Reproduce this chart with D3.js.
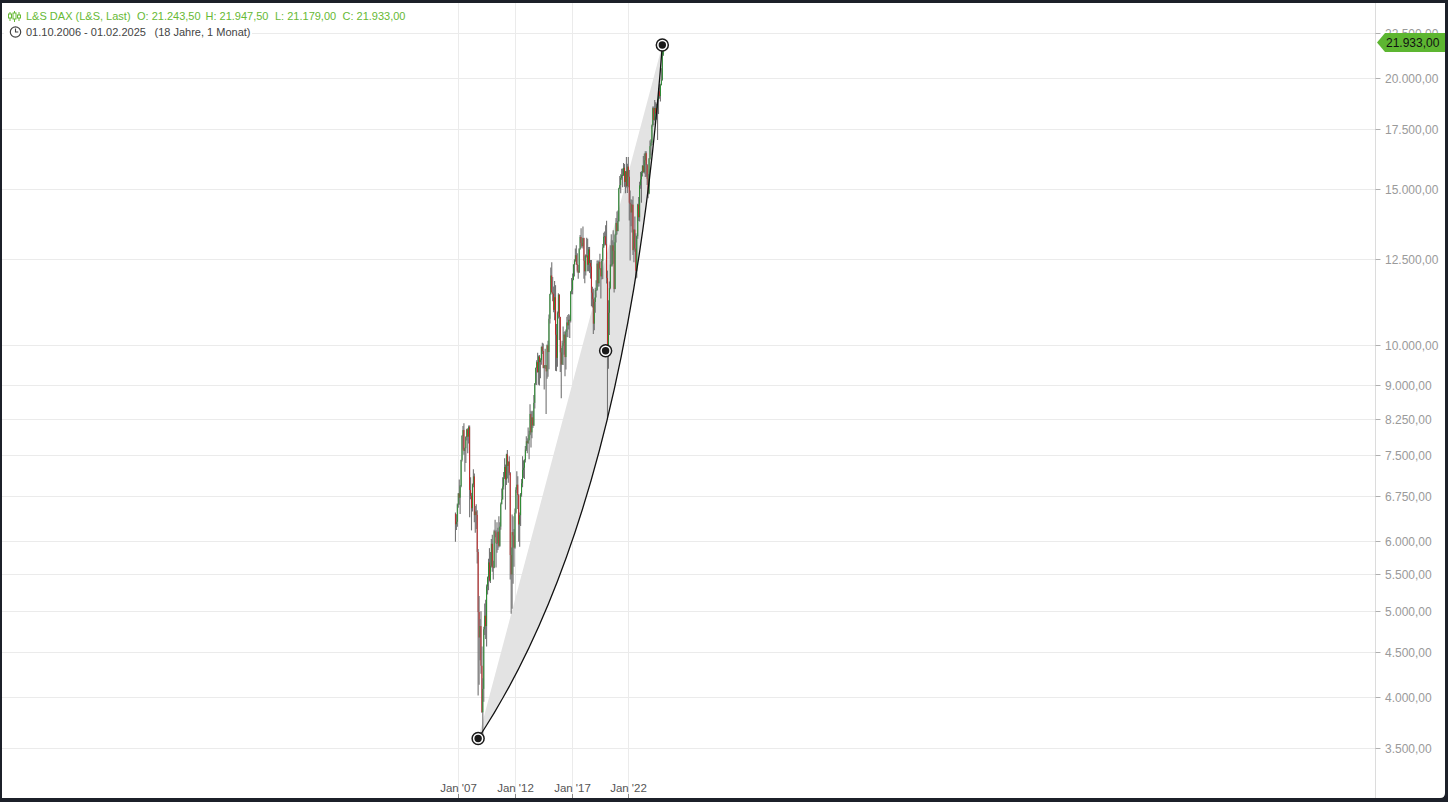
<!DOCTYPE html>
<html><head><meta charset="utf-8">
<script src="https://cdn.jsdelivr.net/npm/d3@7/dist/d3.min.js"></script>
<style>
html,body{margin:0;padding:0;background:#1c2029;}
svg{display:block;font-family:"Liberation Sans",Arial,sans-serif;}
</style></head>
<body>
<svg id="chart" width="1448" height="802"></svg>
<script>
// ---------- DATA ----------
const startMonth = [2006, 9]; // Oct 2006 (month index 9)
const opens = [
 6440,6268,6309,
 6597,6789,6716,6917,7409,7884,8007,7584,7638,7862,8019,7871,
 8067,6851,6748,6535,6949,7097,6418,6479,6422,5831,4988,4669,
 4810,4338,3844,4085,4769,4941,4809,5332,5458,5675,5415,5626,
 5957,5608,5598,6154,6136,5964,5966,6148,5925,6229,6601,6688,
 6914,7077,7273,7041,7514,7294,7376,7159,5785,5502,6141,6089,
 5898,6458,6856,6947,6761,6264,6416,6772,6971,7216,7260,7405,
 7612,7776,7742,7795,7914,8349,7959,8276,8103,8594,9033,9406,
 9552,9306,9692,9556,9603,9943,9833,9407,9470,9474,9327,9981,
 9806,10694,11402,11966,11454,11413,10945,11309,10259,9660,10850,11382,
 10743,9798,9495,9966,10039,10263,9680,10337,10593,10511,10665,10640,
 11481,11535,11834,12313,12438,12615,12325,12118,12056,12829,13230,13024,
 12918,13189,12436,12097,12612,12605,12306,12806,12364,12247,11447,11257,
 10559,11173,11516,11526,12344,11727,12399,12189,11939,12428,12867,13236,
 13249,12982,11890,9936,10862,11587,12311,12313,12945,12761,11556,13291,
 13719,13433,13786,15008,15136,15421,15531,15544,15835,15261,15689,15100,
 15885,15471,14461,14415,14098,14388,12784,13484,12835,12114,13254,14397,
 13924,15128,15365,15629,15922,15664,16148,16447,15947,15387,14810,16215,
 16752,16904,17678,18492,17932,18498,18235,18509,18907,19325,19078,19626,
 19909,21243.5
];
const highs = [
 6460,6433,6614,
 6800,7040,6940,7411,7900,8090,8151,7650,7880,8035,8046,8100,
 8100,7080,6800,6970,7231,7150,6570,6600,6500,5876,5200,4900,
 5000,4560,4200,4800,5100,5150,5360,5470,5730,5890,5830,6030,
 6100,5700,6180,6340,6170,6300,6210,6400,6300,6630,6880,7080,
 7180,7440,7320,7530,7600,7380,7480,7180,5900,6430,6400,6190,
 6530,6900,7194,7100,6780,6460,6800,7050,7480,7400,7420,7680,
 7880,7840,8060,7990,8560,8420,8400,8420,8770,9050,9420,9600,
 9790,9720,9730,9650,9950,10050,10030,9480,9890,9480,10000,10100,
 10810,11410,12220,12390,11920,11630,11800,11670,10550,10900,11430,11400,
 10750,9910,10100,10480,10330,10360,10400,10750,10800,10830,10790,11490,
 11890,12030,12320,12480,12840,12950,12680,12300,12850,13300,13530,13200,
 13597,13200,12610,12650,13200,13170,12890,12890,12460,12460,11620,11560,
 11300,11590,11820,12440,12440,12440,12660,12200,12490,12990,13370,13420,
 13640,13795,12120,11220,11780,12950,13320,13120,13460,13050,13340,13900,
 14130,14170,15030,15500,15570,15800,15810,16030,15990,15700,16290,16000,
 16285,15740,14930,14590,14560,14710,13500,13950,13360,13280,14420,14680,
 15270,15660,15700,15940,16330,16430,16530,16530,15990,15580,16240,17000,
 17050,17720,18570,18570,18890,18780,18700,18910,19490,19675,19700,20520,
 21800,21947.5
];
const lows = [
 5990,6175,6225,
 6540,6595,6437,6900,7380,7610,7510,7186,7350,7790,7540,7730,
 6384,6690,6168,6480,6900,6300,6130,6190,5660,4014,4130,4400,
 4250,3840,3589,3950,4700,4650,4560,5220,5280,5400,5380,5600,
 5540,5430,5590,6060,5600,5820,5860,5900,5910,6180,6600,6680,
 6860,7050,6510,6940,7060,6980,7120,5430,4966,5030,5370,5610,
 5880,6440,6800,6520,5990,5910,6240,6730,6900,7070,7050,7360,
 7580,7540,7720,7420,7900,7650,7840,8050,8090,8470,9000,9000,
 9300,9010,8990,9160,9490,9760,9400,8900,9390,8350,9150,9200,
 9380,10560,11380,11450,11190,10880,10650,9340,9330,9440,10700,10120,
 9310,8699,9490,9480,9740,9210,9370,10200,10190,10400,10170,10590,
 11400,11400,11820,11940,12400,12300,12060,11870,12050,12800,12850,12880,
 12840,11870,11730,11970,12540,12100,12100,12050,11870,11050,11010,10280,
 10380,10860,11300,11500,11620,11630,12150,11270,11840,11860,12860,12940,
 12950,11720,8256,9390,10250,11550,12250,12250,12340,11450,11550,13040,
 13310,13430,13760,14990,14820,15350,15050,15500,15070,14820,15040,14830,
 15050,13810,12440,13600,13380,12620,12390,12730,11863,11900,13170,13790,
 13770,15000,14460,15480,15630,15600,15460,15470,15140,14630,14780,16170,
 16350,16800,17620,17700,17900,17990,17940,17025,18210,18950,18820,19620,
 19860,21179
];
const closes = [
 6268,6309,6597,
 6789,6716,6917,7409,7884,8007,7584,7638,7862,8019,7871,8067,
 6851,6748,6535,6949,7097,6418,6479,6422,5831,4988,4669,4810,
 4338,3844,4085,4769,4941,4809,5332,5458,5675,5415,5626,5957,
 5608,5598,6154,6136,5964,5966,6148,5925,6229,6601,6688,6914,
 7077,7273,7041,7514,7294,7376,7159,5785,5502,6141,6089,5898,
 6458,6856,6947,6761,6264,6416,6772,6971,7216,7260,7405,7612,
 7776,7742,7795,7914,8349,7959,8276,8103,8594,9033,9406,9552,
 9306,9692,9556,9603,9943,9833,9407,9470,9474,9327,9981,9806,
 10694,11402,11966,11454,11413,10945,11309,10259,9660,10850,11382,10743,
 9798,9495,9966,10039,10263,9680,10337,10593,10511,10665,10640,11481,
 11535,11834,12313,12438,12615,12325,12118,12056,12829,13230,13024,12918,
 13189,12436,12097,12612,12605,12306,12806,12364,12247,11447,11257,10559,
 11173,11516,11526,12344,11727,12399,12189,11939,12428,12867,13236,13249,
 12982,11890,9936,10862,11587,12311,12313,12945,12761,11556,13291,13719,
 13433,13786,15008,15136,15421,15531,15544,15835,15261,15689,15100,15885,
 15471,14461,14415,14098,14388,12784,13484,12835,12114,13254,14397,13924,
 15128,15365,15629,15922,15664,16148,16447,15947,15387,14810,16215,16752,
 16904,17678,18492,17932,18498,18235,18509,18907,19325,19078,19626,19909,
 21732,21933
];
const yTicks = [3500,4000,4500,5000,5500,6000,6750,7500,8250,9000,10000,12500,15000,17500,20000,22500];
const xTickDates = ["2007-01-01","2012-01-01","2017-01-01","2022-01-01"];
// drawing-tool anchors: start, bezier control, end
const curveDates = ["2008-10-01","2021-12-15","2025-01-01"];
const curvePrices = [3590, 6470, 21790];
// marker circles (start, handle, end)
const markerDates = ["2008-10-01","2020-01-01","2025-01-01"];
const markerPrices = [3590, 9841, 21790];
const lastPrice = 21933;
const headerTitle = "L&S DAX (L&S, Last)";
const headerOHLC = ["O: 21.243,50","H: 21.947,50","L: 21.179,00","C: 21.933,00"];
const headerRange = "01.10.2006 - 01.02.2025";
const headerSpan = "(18 Jahre, 1 Monat)";

// ---------- SETUP ----------
const W = 1448, H = 802;
const plotRight = 1375.5, plotTop = 3, plotBottom = 798;
const svg = d3.select("#chart");
const parse = d3.timeParse("%Y-%m-%d");
const de = d3.formatLocale({decimal:",", thousands:".", grouping:[3], currency:["","€"]});
const fmt = de.format(",.2f");

const x = d3.scaleTime()
  .domain([new Date(2007,0,1), new Date(2022,0,1)])
  .range([458.3, 628.3]);
const y = d3.scaleLog().domain([3500, 22500]).range([748.3, 32.7]);

const candles = closes.map((c,i)=>({
  date: new Date(startMonth[0], startMonth[1]+i, 1),
  o: opens[i], h: highs[i], l: lows[i], c: c
}));

// frame
svg.append("rect").attr("width",W).attr("height",H).attr("fill","#1c2029");
svg.append("path")
  .attr("d",`M2,${plotTop} H1445 V${plotBottom-5} Q1445,${plotBottom} 1440,${plotBottom} H2 Z`)
  .attr("fill","#ffffff");

// grid
const grid = svg.append("g");
grid.selectAll("line.h").data(yTicks).enter().append("line")
  .attr("x1",2).attr("x2",plotRight)
  .attr("y1",d=>Math.round(y(d))+0.5).attr("y2",d=>Math.round(y(d))+0.5)
  .attr("stroke","#ebebeb").attr("stroke-width",1);
grid.selectAll("line.v").data(xTickDates).enter().append("line")
  .attr("x1",d=>Math.round(x(parse(d)))+0.5).attr("x2",d=>Math.round(x(parse(d)))+0.5)
  .attr("y1",plotTop).attr("y2",plotBottom)
  .attr("stroke","#ebebeb").attr("stroke-width",1);

// y axis line
svg.append("line").attr("x1",plotRight).attr("x2",plotRight)
  .attr("y1",plotTop).attr("y2",plotBottom).attr("stroke","#dcdcdc");

// curve geometry
const cp = curveDates.map((d,i)=>[x(parse(d)), y(curvePrices[i])]);
const curvePath = `M${cp[0][0]},${cp[0][1]} Q${cp[1][0]},${cp[1][1]} ${cp[2][0]},${cp[2][1]}`;
svg.append("path").attr("d", curvePath + " Z").attr("fill","#e3e3e3");

// candles
const cg = svg.append("g");
candles.forEach(d=>{
  const cx = x(d.date);
  cg.append("line").attr("x1",cx).attr("x2",cx)
    .attr("y1",y(d.h)).attr("y2",y(d.l))
    .attr("stroke","#737373").attr("stroke-width",1.1);
  const top = y(Math.max(d.o,d.c)), bot = y(Math.min(d.o,d.c));
  cg.append("rect").attr("x",cx-0.45).attr("width",0.9)
    .attr("y",top).attr("height",Math.max(0.8,bot-top))
    .attr("fill", d.c>=d.o ? "#23902a" : "#cc1f1f");
});

// curve line
svg.append("path").attr("d",curvePath).attr("fill","none")
  .attr("stroke","#111").attr("stroke-width",1.3);

// markers
markerDates.forEach((d,i)=>{
  const mx = x(parse(d)), my = y(markerPrices[i]);
  svg.append("circle").attr("cx",mx).attr("cy",my).attr("r",6)
    .attr("fill","#fff").attr("stroke","#1a1a1a").attr("stroke-width",1.5);
  svg.append("circle").attr("cx",mx).attr("cy",my).attr("r",3.7).attr("fill","#1a1a1a");
});

// y axis ticks & labels
const ya = svg.append("g");
yTicks.forEach(v=>{
  const ty = Math.round(y(v))+0.5;
  ya.append("line").attr("x1",plotRight).attr("x2",plotRight+5)
    .attr("y1",ty).attr("y2",ty).attr("stroke","#b0b0b0");
  ya.append("text").attr("x",1385).attr("y",ty).attr("dy","0.35em")
    .attr("font-size","12px").attr("fill","#9a9a9a").text(fmt(v));
});

// last price flag
const ly = y(lastPrice);
svg.append("path")
  .attr("d",`M1377,${ly} L1385,${ly-9.5} H1445 V${ly+9.5} H1385 Z`)
  .attr("fill","#5db631");
svg.append("text").attr("x",1386).attr("y",ly).attr("dy","0.36em")
  .attr("font-size","12px").attr("fill","#111").text(fmt(lastPrice));

// x axis
const xa = svg.append("g");
const xfmt = d3.timeFormat("%b '%y");
xTickDates.forEach(d=>{
  const tx = Math.round(x(parse(d)))+0.5;
  xa.append("line").attr("x1",tx).attr("x2",tx).attr("y1",794).attr("y2",plotBottom)
    .attr("stroke","#8a8a8a");
  xa.append("text").attr("x",tx).attr("y",792).attr("text-anchor","middle")
    .attr("font-size","11.5px").attr("fill","#555").text(xfmt(parse(d)));
});

// header
const hd = svg.append("g");
hd.append("rect").attr("x",4).attr("y",24).attr("width",248).attr("height",16).attr("fill","#fff");
const green = "#66b934";
// indicator icon
[[10,12,21,14,18],[14.5,11,22,13,19],[19,12,21,15,18]].forEach(a=>{
  hd.append("line").attr("x1",a[0]).attr("x2",a[0]).attr("y1",a[1]).attr("y2",a[2])
    .attr("stroke",green).attr("stroke-width",1);
  hd.append("rect").attr("x",a[0]-1.5).attr("y",a[3]).attr("width",3).attr("height",a[4]-a[3])
    .attr("fill","#fff").attr("stroke",green).attr("stroke-width",1);
});
const t1 = hd.append("text").attr("y",20).attr("font-size","11px").attr("fill",green);
t1.append("tspan").attr("x",26).text(headerTitle);
const ohlcX = [137, 205.5, 275, 342.5];
headerOHLC.forEach((s,i)=>t1.append("tspan").attr("x",ohlcX[i]).text(s));
// clock icon
hd.append("circle").attr("cx",15.5).attr("cy",32).attr("r",5.2)
  .attr("fill","none").attr("stroke","#444").attr("stroke-width",1.2);
hd.append("path").attr("d","M15.5,28.6 V32 H18.3").attr("fill","none")
  .attr("stroke","#444").attr("stroke-width",1.1);
const t2 = hd.append("text").attr("y",36).attr("font-size","11px").attr("fill","#444");
t2.append("tspan").attr("x",26).text(headerRange);
t2.append("tspan").attr("x",154.5).text(headerSpan);
</script>
</body></html>
